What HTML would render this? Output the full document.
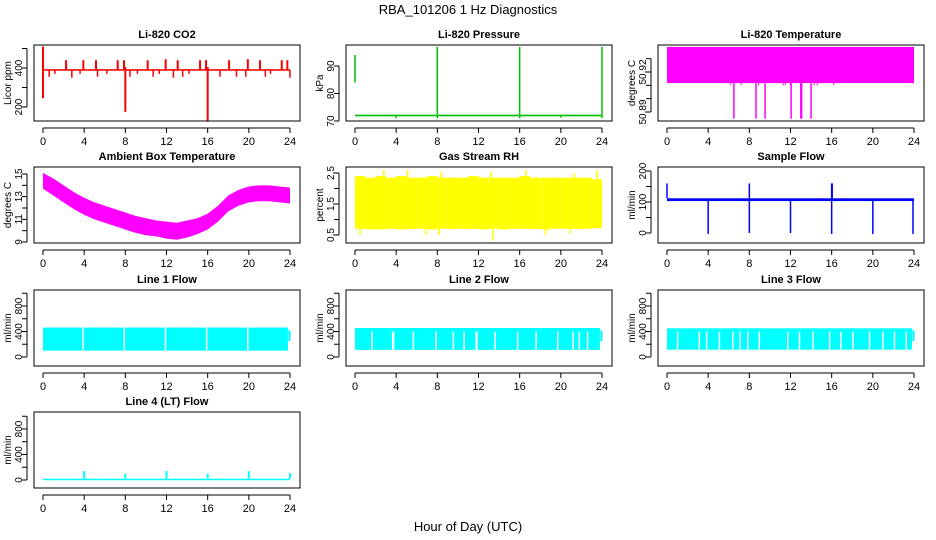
<!DOCTYPE html>
<html><head><meta charset="utf-8"><style>
body{margin:0;background:#fff;}
svg{display:block;font-family:"Liberation Sans",Arial,sans-serif;}
</style></head><body>
<svg id="chart" width="936" height="540" viewBox="0 0 936 540" xmlns="http://www.w3.org/2000/svg">
<rect width="936" height="540" fill="#fff"/>
<text x="468" y="14" font-size="13" text-anchor="middle">RBA_101206  1 Hz Diagnostics</text>
<text x="468" y="531" font-size="13" text-anchor="middle">Hour of Day (UTC)</text>
</svg>
<script>
// ---- data ----
const xTicks=[0,4,8,12,16,20,24];
// CO2
const co2Base=[390,390];
const co2UpHours=[2.24,3.92,5.15,7.26,7.87,10.17,11.92,13.09,15.26,15.84,18.08,19.9,21.09,23.2,23.74];
const co2UpVals=[440,440,440,440,440,440,445,440,440,440,440,445,440,440,440];
const co2DownHours=[0.6,1.16,2.8,3.6,5.3,6.2,8.45,9.17,10.7,11.3,12.67,13.57,14.2,17.2,18.8,19.7,21.6,22.1,24.0];
const co2DownVals=[355,370,350,370,355,370,355,370,355,370,350,355,370,355,355,355,355,370,350];
const co2BigHours=[0,0,8.0,16.0];
const co2BigLo=[245,390,175,125];
const co2BigHi=[510,390,405,405];
// Pressure
const presBase=72;
const presSpikeHours=[0,8,16,24];
const presSpikeLo=[84,71,71,71];
const presSpikeHi=[94,97,97,97];
const presDipHours=[4,20];
const presDipVals=[71,71.2];
// Li-820 temperature
const tempLo=50.9117, tempHi=50.9388;
const tempSpikeHours=[6.5,8.65,9.53,12.06,13.0,13.08,14.0];
const tempSpikeVals=[50.885,50.885,50.885,50.885,50.885,50.885,50.885];
const tempSmallHours=[6.2,7.2,8.9,11.3,11.5,12.0,14.3,14.6,16.2];
const tempSmallVals=[50.910,50.910,50.910,50.910,50.910,50.910,50.910,50.910,50.910];
// Ambient box temperature (hourly samples 0..24)
const ambHi=[15.1,14.6,14.0,13.4,12.9,12.5,12.2,11.9,11.6,11.3,11.1,10.9,10.8,10.7,10.9,11.1,11.5,12.2,13.1,13.6,13.9,14.0,14.0,13.9,13.8];
const ambLo=[13.7,13.1,12.5,11.9,11.4,11.0,10.7,10.4,10.1,9.8,9.6,9.5,9.3,9.2,9.4,9.7,10.1,10.8,11.7,12.2,12.5,12.6,12.6,12.5,12.4];
// Gas stream RH (hourly bins)
const rhHi=[2.4,2.35,2.4,2.35,2.4,2.35,2.35,2.4,2.35,2.35,2.35,2.4,2.35,2.35,2.35,2.35,2.4,2.35,2.35,2.35,2.35,2.35,2.35,2.3];
const rhLo=[0.7,0.68,0.68,0.7,0.68,0.7,0.7,0.68,0.7,0.7,0.7,0.7,0.68,0.7,0.68,0.7,0.7,0.7,0.68,0.7,0.7,0.7,0.7,0.72];
const rhUpHours=[2.8,5.1,8.4,13.2,16.6,21.3,23.5];
const rhUpVals=[2.6,2.6,2.55,2.55,2.6,2.5,2.6];
const rhDownHours=[0.5,6.9,8.2,13.4,18.5,20.9];
const rhDownVals=[0.5,0.5,0.5,0.32,0.5,0.55];
// Sample flow
const sfLo=103, sfHi=112;
const sfUpHours=[0,8,16,16.05];
const sfUpVals=[160,160,160,160];
const sfDropHours=[4,8,12,16,20,23.9];
const sfDropVals=[-3,0,0,-3,-3,-3];
// Line flows
const l1Lo=100, l1Hi=462;
const l1Gaps=[3.9,7.9,11.9,15.9,19.9];
const l2Lo=112, l2Hi=455;
const l2Gaps=[1.65,3.66,3.75,5.67,7.87,9.56,10.6,11.77,11.85,13.6,15.8,17.6,19.7,21.2,21.8,22.6];
const l3Lo=115, l3Hi=450;
const l3Gaps=[1.03,3.14,3.85,5.09,6.39,7.1,7.85,8.97,11.73,12.87,14.17,15.8,16.9,18.06,19.68,20.98,22.1,23.25];
const l4Lo=0, l4Hi=20;
const l4SpikeHours=[4,8,12,16,20,24];
const l4SpikeVals=[140,100,140,100,140,110];

// ---- layout ----
const svg=document.getElementById('chart');
const NS='http://www.w3.org/2000/svg';
const X0=[34,346,658], TOP=[45,167,290,412], W=266, H=76;
function mk(tag,attrs,parent){const e=document.createElementNS(NS,tag);for(const k in attrs)e.setAttribute(k,attrs[k]);(parent||svg).appendChild(e);return e;}
function panel(key,col,row,title,ylab,v1,o1,v2,o2,ticks,labels){
  const g=mk('g',{});
  
  
  const left=X0[col], top=TOP[row];
  const x=h=>left+9+h*(247/24);
  const y=v=>top+o1+(v-v1)*(o2-o1)/(v2-v1);
  const plot=mk('g',{},g);
  
  
  const box=mk('rect',{x:left,y:top,width:W,height:H,fill:'none',stroke:'#000','stroke-width':1},g);
  
  
  const t=mk('text',{x:left+W/2,y:top-7,'font-size':11,'font-weight':'bold','text-anchor':'middle'},g);
  t.textContent=title;
  
  
  const yl=mk('text',{x:0,y:0,transform:`translate(${left-23},${top+H/2}) rotate(-90)`,'font-size':10,'text-anchor':'middle'},g);
  yl.textContent=ylab;
  
  
  const bot=top+H;
  mk('line',{x1:x(0),x2:x(24),y1:bot+7,y2:bot+7,stroke:'#000'},g);
  xTicks.forEach(h=>{
    mk('line',{x1:x(h),x2:x(h),y1:bot+7,y2:bot+12,stroke:'#000'},g);
    const tl=mk('text',{x:x(h),y:bot+24,'font-size':11,'text-anchor':'middle'},g);
    tl.textContent=h;
    
    
  });
  mk('line',{x1:left-7,x2:left-7,y1:y(ticks[0]),y2:y(ticks[ticks.length-1]),stroke:'#000'},g);
  ticks.forEach(v=>{mk('line',{x1:left-12,x2:left-7,y1:y(v),y2:y(v),stroke:'#000'},g);});
  labels.forEach(v=>{
    const tl=mk('text',{transform:`translate(${left-12},${y(v)}) rotate(-90)`,'font-size':10,'text-anchor':'middle'},g);
    tl.textContent=v;
    
    
  });
  return {x,y,g:plot};
}
function band(p,h1,h2,lo,hi,c){mk('rect',{x:p.x(h1),y:Math.min(p.y(lo),p.y(hi)),width:Math.max(1,p.x(h2)-p.x(h1)),height:Math.max(1.5,Math.abs(p.y(lo)-p.y(hi))),fill:c},p.g);}
function seg(p,h,lo,hi,c,w){mk('line',{x1:p.x(h),x2:p.x(h),y1:p.y(lo),y2:p.y(hi),stroke:c,'stroke-width':w||1.5},p.g);}

// CO2
let p=panel('co2',0,0,'Li-820 CO2','Licor ppm',400,23,200,62,[200,300,400,500],[200,400]);
band(p,0,24,co2Base[0]-4,co2Base[1]+4,'#ff0000');
co2UpHours.forEach((h,i)=>seg(p,h,co2Base[0],co2UpVals[i],'#ff0000',2));
co2DownHours.forEach((h,i)=>seg(p,h,co2Base[0],co2DownVals[i],'#ff0000',1.5));
co2BigHours.forEach((h,i)=>seg(p,h,co2BigLo[i],co2BigHi[i],'#ff0000',2));
// Pressure
p=panel('pressure',1,0,'Li-820 Pressure','kPa',70,76,90,21,[70,80,90],[70,80,90]);
band(p,0,24,presBase-0.3,presBase+0.3,'#00c000');
presSpikeHours.forEach((h,i)=>seg(p,h,presSpikeLo[i],presSpikeHi[i],'#00c000',1.5));
presDipHours.forEach((h,i)=>seg(p,h,presBase,presDipVals[i],'#00c000',1.5));
// Temperature
p=panel('li820-temperature',2,0,'Li-820 Temperature','degrees C',50.89,67,50.92,27,[50.89,50.90,50.91,50.92,50.93],[50.89,50.92]);
band(p,0,24,tempLo,tempHi,'#ff00ff');
tempSmallHours.forEach((h,i)=>seg(p,h,tempLo,tempSmallVals[i],'#ff00ff',1));
tempSpikeHours.forEach((h,i)=>seg(p,h,tempLo,tempSpikeVals[i],'#ff00ff',1.5));
// Ambient (smooth band through hourly samples)
p=panel('ambient-temperature',0,1,'Ambient Box Temperature','degrees C',15,7,9,75,[9,10,11,12,13,14,15],[9,11,13,15]);
{
  const pts=[];
  ambHi.forEach((v,i)=>pts.push(p.x(i)+','+p.y(v)));
  for(let i=ambLo.length-1;i>=0;i--) pts.push(p.x(i)+','+p.y(ambLo[i]));
  const pg=mk('polygon',{points:pts.join(' '),fill:'#ff00ff'},p.g);
  
  
}
// RH
p=panel('gas-stream-rh',1,1,'Gas Stream RH','percent',2.5,6,0.5,68,[0.5,1,1.5,2,2.5],[0.5,1.5,2.5]);
rhHi.forEach((v,i)=>band(p,i,i+1,rhLo[i],rhHi[i],'#ffff00'));
rhUpHours.forEach((h,i)=>seg(p,h,2.3,rhUpVals[i],'#ffff00',1.5));
rhDownHours.forEach((h,i)=>seg(p,h,0.7,rhDownVals[i],'#ffff00',1.5));
// Sample flow
p=panel('sample-flow',2,1,'Sample Flow','ml/min',0,66,200,4,[0,50,100,150,200],[0,100,200]);
band(p,0,24,sfLo,sfHi,'#0000ff');
sfUpHours.forEach((h,i)=>seg(p,h,sfHi,sfUpVals[i],'#0000ff',1.5));
sfDropHours.forEach((h,i)=>seg(p,h,sfLo,sfDropVals[i],'#0000ff',1.5));
// Line flows
function flow(key,col,row,title,lo,hi,gaps,gapTop){
  const q=panel(key,col,row,title,'ml/min',0,67,800,16,[0,200,400,600,800,1000],[0,400,800]);
  band(q,0,23.8,lo,hi,'#00ffff');
  band(q,23.85,24.05,250,420,'#00ffff');
  gaps.forEach(h=>seg(q,h,lo-5,gapTop,'#ffffff',1.5));
  return q;
}
flow('line-1-flow',0,2,'Line 1 Flow',l1Lo,l1Hi,l1Gaps,l1Hi+5);
flow('line-2-flow',1,2,'Line 2 Flow',l2Lo,l2Hi,l2Gaps,400);
flow('line-3-flow',2,2,'Line 3 Flow',l3Lo,l3Hi,l3Gaps,400);
p=panel('line-4-flow',0,3,'Line 4 (LT) Flow','ml/min',0,68,800,17,[0,200,400,600,800,1000],[0,400,800]);
band(p,0,24,l4Lo,l4Hi,'#00ffff');
l4SpikeHours.forEach((h,i)=>seg(p,h,l4Hi,l4SpikeVals[i],'#00ffff',2));
</script>
</body></html>
